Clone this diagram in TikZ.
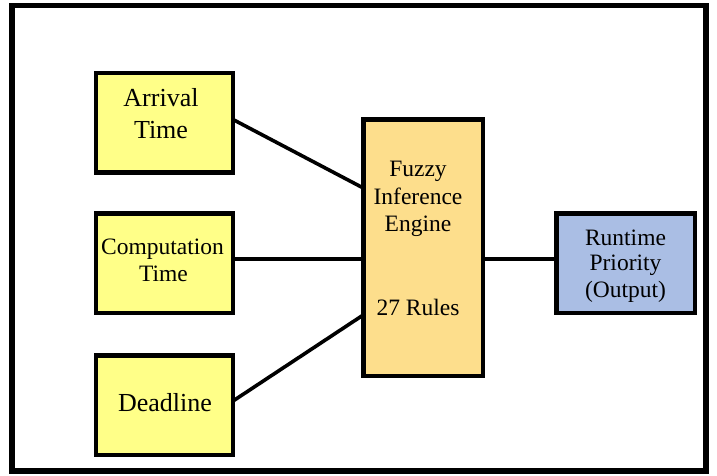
\documentclass[tikz,border=0pt]{standalone}
\usepackage{fontspec}
\setmainfont{Liberation Serif}
\usetikzlibrary{calc}
\definecolor{inyellow}{RGB}{255,255,136}
\definecolor{engorange}{RGB}{253,222,140}
\definecolor{outblue}{RGB}{170,190,228}
\tikzset{
  box/.style={draw=black, line width=4.5pt, inner sep=0pt, outer sep=0pt, rectangle},
  inbox/.style={box, fill=inyellow, minimum width=137pt, minimum height=99.5pt},
  lbl/.style={anchor=base, inner sep=0pt},
  conn/.style={draw=black, line width=3.6pt}
}
\begin{document}
\begin{tikzpicture}[x=1pt,y=-1pt]
\useasboundingbox (0,0) rectangle (717,475);
\fill[white] (0,0) rectangle (717,475);
\draw[line width=5.5pt] (12,5.5) rectangle (706,471);

% boxes
\node[inbox] (arr) at (164.5,122.5) {};
\node[inbox] (comp) at (164.5,263) {};
\node[inbox] (dl) at (164.5,405) {};
\node[box, fill=engorange, minimum width=119.5pt, minimum height=256.5pt] (eng) at (423,247.5) {};
\node[box, fill=outblue, minimum width=138.5pt, minimum height=99.5pt] (out) at (625.5,263) {};

% labels
\begin{scope}[font=\fontsize{26}{30}\selectfont]
\node[lbl] (t1) at (161,106) {Arrival};
\node[lbl] (t2) at (161,138) {Time};
\node[lbl] (t5) at (165,411) {Deadline};
\end{scope}
\begin{scope}[font=\fontsize{23.5}{27}\selectfont]
\node[lbl] (t3) at (162.5,254) {Computation};
\node[lbl] (t4) at (163.5,281.5) {Time};
\node[lbl] (t6) at (418,176) {Fuzzy};
\node[lbl] (t7) at (418,204) {Inference};
\node[lbl] (t8) at (418,231.5) {Engine};
\node[lbl] (t9) at (418,315) {27 Rules};
\node[lbl] (t10) at (625.5,245) {Runtime};
\node[lbl] (t11) at (625.5,270.5) {Priority};
\node[lbl] (t12) at (625.5,297.5) {(Output)};
\end{scope}

% connectors
\coordinate (e1) at ($(eng.north west)!0.268!(eng.south west)$);
\coordinate (e2) at ($(eng.north west)!0.545!(eng.south west)$);
\coordinate (e3) at ($(eng.north west)!0.763!(eng.south west)$);
\coordinate (e4) at ($(eng.north east)!0.545!(eng.south east)$);
\draw[conn] ($(arr.east)+(0,-3)$) -- (e1);
\draw[conn] (comp.east |- e2) -- (e2);
\draw[conn] ($(dl.east)+(0,-4)$) -- (e3);
\draw[conn] (e4) -- (out.west |- e4);
\end{tikzpicture}
\end{document}
